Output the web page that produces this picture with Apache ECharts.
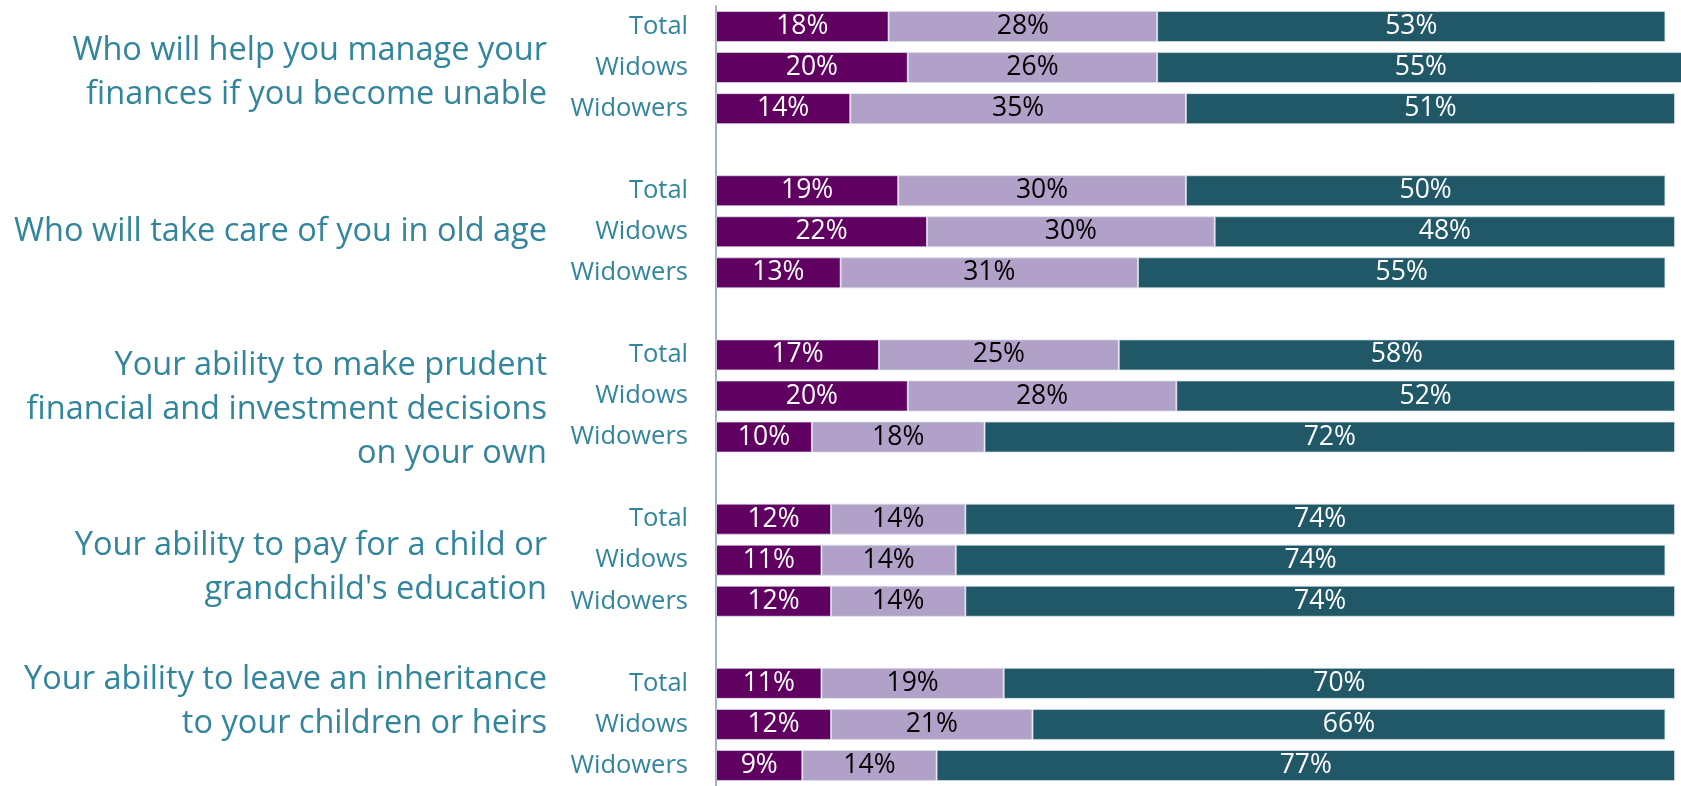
<!DOCTYPE html>
<html>
<head>
<meta charset="utf-8">
<title>Financial concerns of widows and widowers</title>
<script src="https://cdn.jsdelivr.net/npm/echarts@6/dist/echarts.min.js"></script>
<style>
  html, body { margin: 0; padding: 0; background: #ffffff; }
  #chart { width: 1681px; height: 786px; }
</style>
</head>
<body>
<div id="chart"></div>
<script>
// Survey topics, one block of three bars each
const groupTitles = [
  'Who will help you manage your\nfinances if you become unable',
  'Who will take care of you in old age',
  'Your ability to make prudent\nfinancial and investment decisions\non your own',
  "Your ability to pay for a child or\ngrandchild's education",
  'Your ability to leave an inheritance\nto your children or heirs'
];
const rowLabels = ['Total', 'Widows', 'Widowers'];

// Percent shares per topic, rows in the order Total / Widows / Widowers
const darkShare = [
  [18, 20, 14],
  [19, 22, 13],
  [17, 20, 10],
  [12, 11, 12],
  [11, 12, 9]
];
const lightShare = [
  [28, 26, 35],
  [30, 30, 31],
  [25, 28, 18],
  [14, 14, 14],
  [19, 21, 14]
];
const tealShare = [
  [53, 55, 51],
  [50, 48, 55],
  [58, 52, 72],
  [74, 74, 74],
  [70, 66, 77]
];

// Vertical nudge (px) of each topic title relative to its "Widows" row
const titleShift = [5, 0, 14, 8, -23];

const TEXT_TEAL = '#31859C';
const FONT = '"Open Sans", "Noto Sans", sans-serif';

// One category per bar, with an empty spacer category between topics
const categories = [];
const seriesRows = [[], [], []];
const sources = [darkShare, lightShare, tealShare];
groupTitles.forEach((t, g) => {
  rowLabels.forEach((r, i) => {
    categories.push(r + '#' + g);
    sources.forEach((src, s) => seriesRows[s].push(src[g][i]));
  });
  if (g < groupTitles.length - 1) {
    categories.push('#gap' + g);
    seriesRows.forEach(arr => arr.push(null));
  }
});

const segmentStyle = [
  { color: '#600060', label: '#ffffff' },
  { color: '#B1A0C7', label: '#000000' },
  { color: '#215868', label: '#ffffff' }
];

const chart = echarts.init(document.getElementById('chart'), null, { renderer: 'canvas' });

chart.setOption({
  animation: false,
  backgroundColor: '#ffffff',
  grid: { left: 716, right: 6, top: 6, height: 784, containLabel: false },
  xAxis: {
    type: 'value', min: 0, max: 100,
    show: false
  },
  yAxis: {
    type: 'category',
    inverse: true,
    data: categories,
    axisLine: { show: true, lineStyle: { color: '#9DB3C1', width: 2 } },
    axisTick: { show: false },
    splitLine: { show: false },
    axisLabel: {
      margin: 28,
      color: TEXT_TEAL,
      fontFamily: FONT,
      fontSize: 25.5,
      formatter: v => v.split('#')[0]
    }
  },
  series: seriesRows.map((data, s) => ({
    type: 'bar',
    stack: 'share',
    data: data,
    barWidth: 31,
    clip: false,
    itemStyle: {
      color: segmentStyle[s].color,
      borderColor: 'rgba(215,226,234,0.7)',
      borderWidth: 1
    },
    label: {
      show: true,
      position: 'inside',
      color: segmentStyle[s].label,
      fontFamily: FONT,
      fontSize: 26.5,
      formatter: p => p.value + '%'
    },
    emphasis: { disabled: true }
  }))
});

// Topic titles placed beside their blocks using the category scale
const titleElements = groupTitles.map((t, g) => {
  const y = chart.convertToPixel({ yAxisIndex: 0 }, 'Widows#' + g) + titleShift[g];
  return {
    type: 'text',
    x: 547,
    y: y,
    style: {
      text: t,
      fill: TEXT_TEAL,
      font: '32.5px ' + FONT,
      align: 'right',
      verticalAlign: 'middle',
      lineHeight: 44
    }
  };
});
chart.setOption({ graphic: titleElements });
</script>
</body>
</html>
